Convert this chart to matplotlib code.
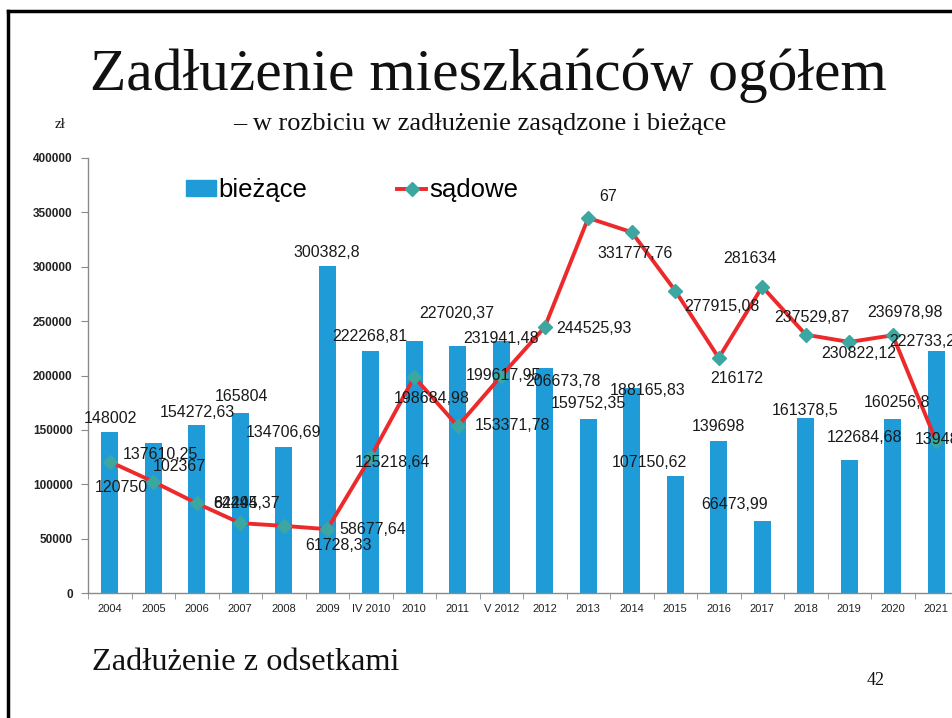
import matplotlib
matplotlib.use("Agg")
import matplotlib.pyplot as plt
from matplotlib.lines import Line2D
import numpy as np

# ---------------- data ----------------
categories = ["2004", "2005", "2006", "2007", "2008", "2009", "IV 2010", "2010",
              "2011", "V 2012", "2012", "2013", "2014", "2015", "2016", "2017",
              "2018", "2019", "2020", "2021"]
biezace = [148002, 137610.25, 154272.63, 165804, 134706.69, 300382.8, 222268.81,
           231500, 227020.37, 231941.48, 206673.78, 159752.35, 188165.83,
           107150.62, 139698, 66473.99, 161378.5, 122684.68, 160256.8, 222733.2]
sadowe = [120750, 102367, 82494, 64245.37, 61728.33, 58677.64, 125218.64,
          198684.98, 153371.78, 199617.95, 244525.93, 344867, 331777.76,
          277915.08, 216172, 281634, 237529.87, 230822.12, 236978.98, 139480]
yticks = [0, 50000, 100000, 150000, 200000, 250000, 300000, 350000, 400000]


def fmt(v):
    s = f"{v:.2f}".rstrip("0").rstrip(".")
    return s.replace(".", ",")


bar_text = [fmt(v) for v in biezace]
bar_text[7] = ""          # label not visible in the reference
line_text = [fmt(v) for v in sadowe]
line_text[11] = "67"      # label shown truncated in the reference

# label offsets in pixels (dx, dy) -- layout only
bar_off = [(1, 14), (7, -11), (1, 13), (1, 16), (0, 14), (0, 14), (-1, 15), (0, 0),
           (-1, 33), (0, 2), (18, -13), (0, 16), (16, -2), (-26, 14), (0, 15),
           (-28, 16), (-1, 7), (15, 22), (4, 16), (-14, 9)]
line_off = [(12, -26), (26, 15), (39, 0), (6, 20), (55, -20), (46, 0), (22, -6),
            (17, -22), (55, 1), (2, 0), (49, -1), (20, 21), (3, -21), (47, -16),
            (18, -21), (-12, 28), (6, 17), (10, -12), (12, 23), (-22, 2)]

BLUE = "#1f9bd8"
RED = "#ec2a2c"
TEAL = "#3ba7a0"
SANS = ["Liberation Sans", "DejaVu Sans"]
SERIF = ["Liberation Serif", "DejaVu Serif"]

fig = plt.figure(figsize=(9.53, 7.18), dpi=100)
fig.patch.set_facecolor("white")

ax = fig.add_axes([88 / 953, (718 - 593) / 718, (958 - 88) / 953, (593 - 158) / 718])
x = np.arange(len(categories))

ax.bar(x, biezace, width=0.4, color=BLUE, zorder=2, label="bieżące")
ax.plot(x, sadowe, color=RED, lw=2.8, marker="D", markersize=7.5,
        markerfacecolor=TEAL, markeredgecolor=TEAL, zorder=3, label="sądowe")

ax.set_xlim(-0.5, len(categories) - 0.5)
ax.set_ylim(0, 400000)

for s in ["top", "right"]:
    ax.spines[s].set_visible(False)
for s in ["left", "bottom"]:
    ax.spines[s].set_color("#8a8a8a")
    ax.spines[s].set_linewidth(1.0)

ax.set_yticks(yticks)
ax.set_yticklabels([str(t) for t in yticks], fontsize=8.5, fontweight="bold",
                   family=SANS, color="#222222")
ax.tick_params(axis="y", direction="out", length=5, color="#8a8a8a", pad=6)

ax.set_xticks(x)
ax.set_xticklabels(categories, fontsize=8, family=SANS, color="#222222")
ax.set_xticks(np.arange(-0.5, len(categories), 1.0), minor=True)
ax.tick_params(axis="x", which="major", length=0, pad=8)
ax.tick_params(axis="x", which="minor", direction="out", length=4, color="#8a8a8a")

last = len(categories) - 1
for i in range(len(categories)):
    if bar_text[i]:
        ax.annotate(bar_text[i], (x[i], biezace[i]), xytext=bar_off[i],
                    textcoords="offset pixels", ha="center", va="center",
                    fontsize=11.5, family=SANS, color="#1a1a1a", zorder=5)
    ax.annotate(line_text[i], (x[i], sadowe[i]), xytext=line_off[i],
                textcoords="offset pixels", ha="left" if i == last else "center",
                va="center", fontsize=11.5, family=SANS, color="#1a1a1a", zorder=5)

# legend
handles = [plt.Rectangle((0, 0), 1, 1, color=BLUE),
           Line2D([0], [0], color=RED, lw=2.8, marker="D", markersize=7.5,
                  markerfacecolor=TEAL, markeredgecolor=TEAL)]
fig.legend(handles, ["bieżące", "sądowe"], loc="center left",
           bbox_to_anchor=(186 / 953, 1 - 190 / 718), ncol=2, frameon=False,
           prop={"family": SANS, "size": 18.5}, handlelength=1.15, handletextpad=0.1,
           columnspacing=3.5, borderpad=0, borderaxespad=0, handleheight=0.55)

# texts
fig.text(488 / 953, 1 - 90 / 718, "Zadłużenie mieszkańców ogółem", ha="center",
         va="baseline", fontsize=42.8, family=SERIF, color="#111111")
fig.text(480 / 953, 1 - 130 / 718, "– w rozbiciu w zadłużenie zasądzone i bieżące",
         ha="center", va="baseline", fontsize=19, family=SERIF, color="#111111")
fig.text(55 / 953, 1 - 128 / 718, "zł", ha="left", va="baseline", fontsize=11,
         family=SERIF, color="#111111")
fig.text(92 / 953, 1 - 670 / 718, "Zadłużenie z odsetkami", ha="left", va="baseline",
         fontsize=23.3, family=SERIF, color="#111111")
fig.text(876 / 953, 1 - 685 / 718, "42", ha="center", va="baseline", fontsize=13,
         family=SERIF, color="#111111")

# slide frame
fig.add_artist(Line2D([8 / 953, 1.0], [1 - 11 / 718, 1 - 11 / 718], color="black",
                      lw=2.5, transform=fig.transFigure))
fig.add_artist(Line2D([8 / 953, 8 / 953], [1 - 11 / 718, 0], color="black",
                      lw=2.5, transform=fig.transFigure))

fig.savefig("out.png", dpi=100)
